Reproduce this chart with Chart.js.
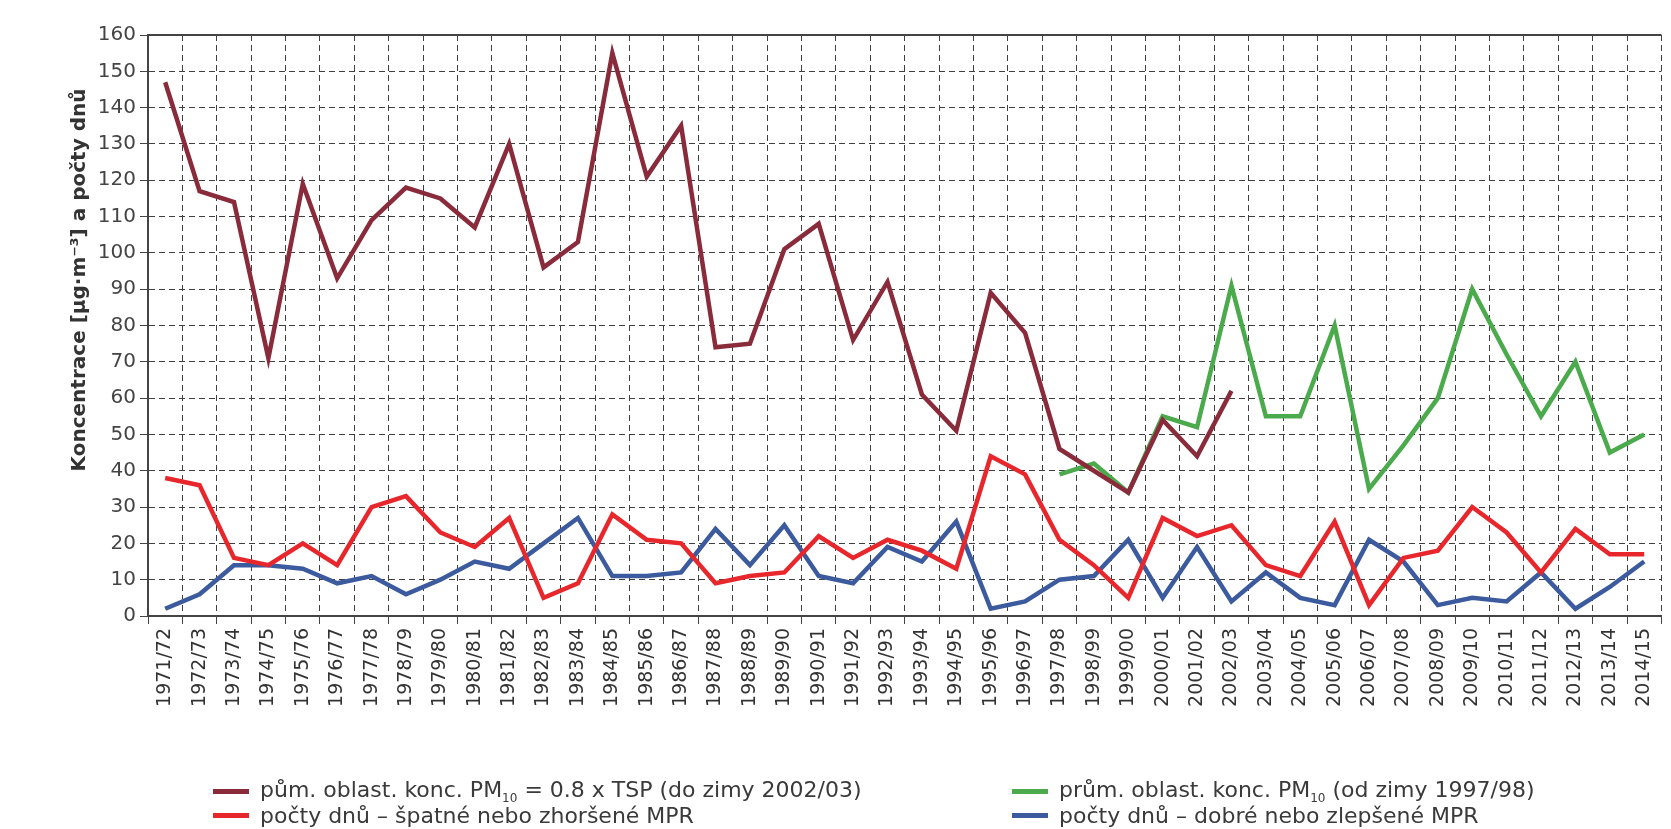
<!DOCTYPE html>
<html>
<head>
<meta charset="utf-8">
<script src="https://cdn.jsdelivr.net/npm/chart.js@4.4.1/dist/chart.umd.min.js"></script>
<style>
  html, body { margin: 0; padding: 0; background: #fff; }
  #wrap { position: relative; width: 1671px; height: 829px; overflow: hidden; }
  #legend { position: absolute; left: 0; top: 0; font-family: "DejaVu Sans", sans-serif; font-size: 22px; color: #3a3a3a; }
  .item { position: absolute; white-space: nowrap; display: flex; align-items: center; height: 24px; }
  .swatch { display: inline-block; width: 36px; height: 5px; margin-right: 11px; }
  sub { font-size: 12px; vertical-align: -5px; }
</style>
</head>
<body>
<div id="wrap">
  <canvas id="chart" width="1671" height="829"></canvas>
  <div id="legend"></div>
</div>
<script>
const seasons = [
  '1971/72', '1972/73', '1973/74', '1974/75', '1975/76', '1976/77', '1977/78', '1978/79',
  '1979/80', '1980/81', '1981/82', '1982/83', '1983/84', '1984/85', '1985/86', '1986/87',
  '1987/88', '1988/89', '1989/90', '1990/91', '1991/92', '1992/93', '1993/94', '1994/95',
  '1995/96', '1996/97', '1997/98', '1998/99', '1999/00', '2000/01', '2001/02', '2002/03',
  '2003/04', '2004/05', '2005/06', '2006/07', '2007/08', '2008/09', '2009/10', '2010/11',
  '2011/12', '2012/13', '2013/14', '2014/15'
];

// PM10 = 0.8 x TSP, until winter 2002/03
const pmTsp = [
  147, 117, 114, 71, 119, 93, 109, 118, 115, 107, 130, 96, 103, 155, 121, 135,
  74, 75, 101, 108, 76, 92, 61, 51, 89, 78, 46, 40, 34, 54, 44, 62,
  null, null, null, null, null, null, null, null, null, null, null, null
];

// PM10 measured, from winter 1997/98
const pm10 = [
  null, null, null, null, null, null, null, null, null, null, null, null, null,
  null, null, null, null, null, null, null, null, null, null, null, null, null,
  39, 42, 34, 55, 52, 91, 55, 55, 80, 35, 47, 60, 90, 72, 55, 70, 45, 50
];

const badDays = [
  38, 36, 16, 14, 20, 14, 30, 33, 23, 19, 27, 5, 9, 28, 21, 20,
  9, 11, 12, 22, 16, 21, 18, 13, 44, 39, 21, 14, 5, 27, 22, 25,
  14, 11, 26, 3, 16, 18, 30, 23, 12, 24, 17, 17
];

const goodDays = [
  2, 6, 14, 14, 13, 9, 11, 6, 10, 15, 13, 20, 27, 11, 11, 12,
  24, 14, 25, 11, 9, 19, 15, 26, 2, 4, 10, 11, 21, 5, 19, 4,
  12, 5, 3, 21, 15, 3, 5, 4, 12, 2, 8, 15
];

const yMin = 0, yMax = 160, yStep = 10;

const seriesInfo = [
  { html: 'pům. oblast. konc. PM<sub>10</sub> = 0.8 x TSP (do zimy 2002/03)', data: pmTsp, color: '#8a2b3b' },
  { html: 'prům. oblast. konc. PM<sub>10</sub> (od zimy 1997/98)', data: pm10, color: '#4aaa4c' },
  { html: 'počty dnů – špatné nebo zhoršené MPR', data: badDays, color: '#e8272c' },
  { html: 'počty dnů – dobré nebo zlepšené MPR', data: goodDays, color: '#3c5b9f' }
];

const chartLeft = 148, chartTop = 35, chartBottom = 616;
const gridColor = '#3f3f3f';

// y title and solid top frame line
const extras = {
  id: 'extras',
  beforeDatasetsDraw(chart) {
    const { ctx, chartArea } = chart;
    ctx.save();
    ctx.strokeStyle = '#444';
    ctx.lineWidth = 2;
    ctx.beginPath();
    ctx.moveTo(chartArea.left, chartArea.top);
    ctx.lineTo(chartArea.right, chartArea.top);
    ctx.stroke();
    ctx.restore();
  },
  afterDraw(chart) {
    const ctx = chart.ctx;
    ctx.save();
    ctx.translate(80, 280);
    ctx.rotate(-Math.PI / 2);
    ctx.font = 'bold 20px "DejaVu Sans", sans-serif';
    ctx.fillStyle = '#333';
    ctx.textAlign = 'center';
    ctx.textBaseline = 'middle';
    ctx.fillText('Koncentrace [µg·m⁻³] a počty dnů', 0, 0);
    ctx.restore();
  }
};

const ctx = document.getElementById('chart').getContext('2d');
new Chart(ctx, {
  type: 'line',
  data: {
    labels: seasons,
    datasets: seriesInfo.map(s => ({
      label: s.html.replace(/<[^>]+>/g, ''),
      data: s.data,
      borderColor: s.color,
      backgroundColor: s.color,
      borderWidth: 4.5,
      pointRadius: 0,
      tension: 0,
      spanGaps: false
    }))
  },
  options: {
    responsive: false,
    animation: false,
    layout: { padding: { left: 0, right: 0, top: chartTop, bottom: 0 } },
    plugins: {
      legend: { display: false },
      tooltip: { enabled: false }
    },
    scales: {
      x: {
        offset: true,
        afterFit(scale) { scale.height = 829 - chartBottom; },
        grid: { offset: true, color: gridColor, lineWidth: 1, tickLength: 8, tickColor: '#444' },
        border: { color: '#444', width: 2, dash: [6, 4] },
        ticks: { font: { family: '"DejaVu Sans", sans-serif', size: 19 }, color: '#333', minRotation: 90, maxRotation: 90, autoSkip: false, padding: 4 }
      },
      y: {
        min: yMin,
        max: yMax,
        afterFit(scale) { scale.width = chartLeft; },
        grid: { color: gridColor, lineWidth: 1, tickLength: 8, tickColor: '#444' },
        border: { color: '#444', width: 2, dash: [6, 4] },
        ticks: { stepSize: yStep, font: { family: '"DejaVu Sans", sans-serif', size: 20 }, color: '#444', padding: 4 }
      }
    }
  },
  plugins: [extras]
});

// legend in two columns
const legendPos = [[213, 779], [1012, 779], [213, 803], [1012, 803]];
const legend = document.getElementById('legend');
seriesInfo.forEach((s, i) => {
  const el = document.createElement('div');
  el.className = 'item';
  el.style.left = legendPos[i][0] + 'px';
  el.style.top = legendPos[i][1] + 'px';
  el.innerHTML = `<span class="swatch" style="background:${s.color}"></span><span>${s.html}</span>`;
  legend.appendChild(el);
});
</script>
</body>
</html>
